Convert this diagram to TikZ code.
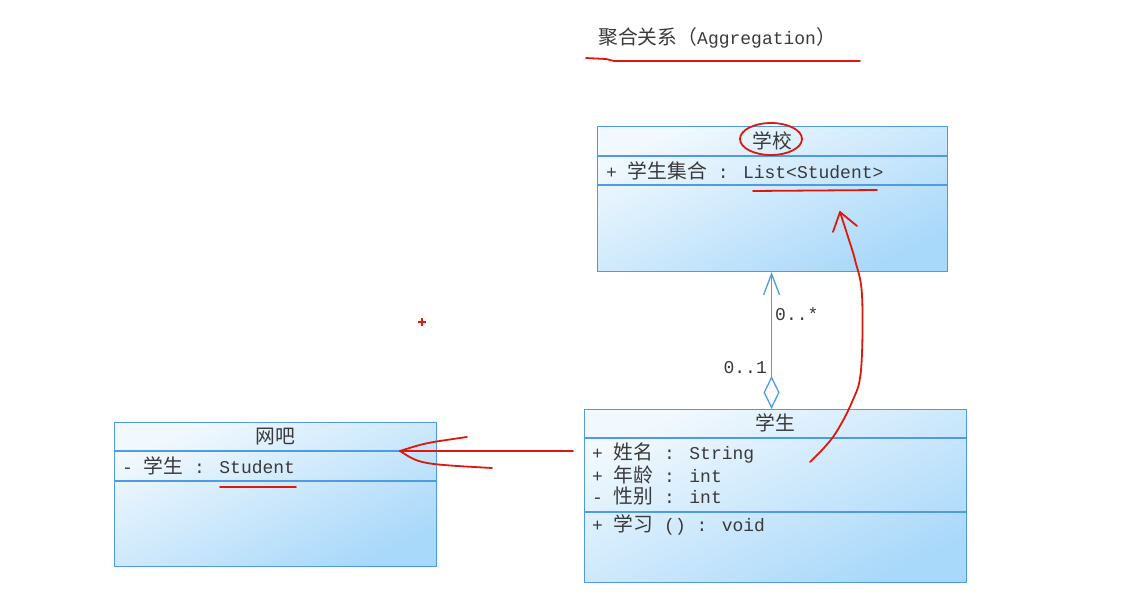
\documentclass[tikz,border=0pt]{standalone}
\usepackage{fontspec}
\setmainfont{Liberation Mono}
\newfontfamily\cjk[Scale=1.1]{Noto Sans CJK SC}
\usetikzlibrary{arrows.meta, positioning, calc}

\definecolor{umlline}{RGB}{78,155,228}
\definecolor{umltop}{RGB}{242,249,254}
\definecolor{umlbot}{RGB}{168,216,250}
\definecolor{inkred}{RGB}{222,24,12}
\definecolor{umltext}{RGB}{58,58,58}

\tikzset{
  classbox/.style={draw=umlline, line width=1.1pt, anchor=north west, inner sep=0pt,
    top color=umltop, bottom color=umlbot, shading angle=25},
  divider/.style={draw=umlline, line width=1.1pt},
  umltxt/.style={text=umltext, inner sep=0pt, font=\fontsize{18}{21}\selectfont},
  member/.style={umltxt, anchor=west},
  ink/.style={draw=inkred, line width=1.8pt, line cap=round, line join=round}
}

\begin{document}
\begin{tikzpicture}[x=1pt, y=-1pt]
    \useasboundingbox[fill=white] (0,0) rectangle (1125,611);

    % title
    \node[member] (title) at (598,38) {{\cjk 聚合关系（}Aggregation{\cjk ）}};

    % classes
    \node[classbox, minimum width=350pt, minimum height=145pt] (school) at (597,126) {};
    \draw[divider] ([yshift=-30pt]school.north west) -- ([yshift=-30pt]school.north east);
    \draw[divider] ([yshift=-59pt]school.north west) -- ([yshift=-59pt]school.north east);
    \node[umltxt] (schoolname) at ([yshift=-15pt]school.north) {{\cjk 学校}};
    \node[member] (schoolattr) at ([xshift=9pt, yshift=-45pt]school.north west) {+ {\cjk 学生集合} : List<Student>};

    \node[classbox, minimum width=382pt, minimum height=173pt] (student) at (584,409) {};
    \draw[divider] ([yshift=-29pt]student.north west) -- ([yshift=-29pt]student.north east);
    \draw[divider] ([yshift=-103pt]student.north west) -- ([yshift=-103pt]student.north east);
    \node[umltxt] (studentname) at ([yshift=-14pt]student.north) {{\cjk 学生}};
    \foreach \dy/\vis/\attr/\type in {44/+/姓名/String, 66/+/年龄/int, 87/-/性别/int} {
        \node[member] (studentattr\dy) at ([xshift=8pt, yshift=-\dy pt]student.north west) {\vis{} {\cjk \attr} : \type};
    }
    \node[member] (studentop) at ([xshift=8pt, yshift=-116pt]student.north west) {+ {\cjk 学习} () : void};

    \node[classbox, minimum width=322pt, minimum height=144pt] (netbar) at (114,422) {};
    \draw[divider] ([yshift=-29pt]netbar.north west) -- ([yshift=-29pt]netbar.north east);
    \draw[divider] ([yshift=-59pt]netbar.north west) -- ([yshift=-59pt]netbar.north east);
    \node[umltxt] (netbarname) at ([yshift=-15pt]netbar.north) {{\cjk 网吧}};
    \node[member] (netbarattr) at ([xshift=8pt, yshift=-44pt]netbar.north west) {- {\cjk 学生} : Student};

    % aggregation
    \coordinate (aggstart) at ([xshift=-4pt]student.north);
    \coordinate (aggend) at (aggstart |- school.south);
    \draw[umlline, line width=1.3pt,
          {Diamond[length=33pt, width=16pt, fill=white]}-{Straight Barb[length=21pt, width=16pt]}]
          (aggstart) -- (aggend);
    \node[umltxt, anchor=west] (mulmany) at (775,314) {0..*};
    \node[umltxt, anchor=east] (mulone) at (767,368) {0..1};

    % red notes
    \draw[ink] (586,58) -- (606,59) -- (614,61) -- (860,61);
    \draw[ink] (771,139) ellipse [x radius=31, y radius=16];
    \draw[ink] (753,191) -- (877,190);
    \draw[ink] (220,487) -- (296,487);
    \draw[ink] (573,451) -- (400,451);
    \draw[ink] (400,451) .. controls (425,443) .. (467,437);
    \draw[ink] (400,451) .. controls (420,464) .. (492,468);
    \draw[ink] plot[smooth, tension=0.6] coordinates {(810,462) (833,437) (852,402) (861,370) (862,295) (855,260) (849,240) (840,212)};
    \draw[ink] (840,212) -- (833,232);
    \draw[ink] (840,212) -- (857,226);
    \draw[draw=inkred, line width=1.2pt] (418,322) -- (426,322) (422,318) -- (422,326);
\end{tikzpicture}
\end{document}
